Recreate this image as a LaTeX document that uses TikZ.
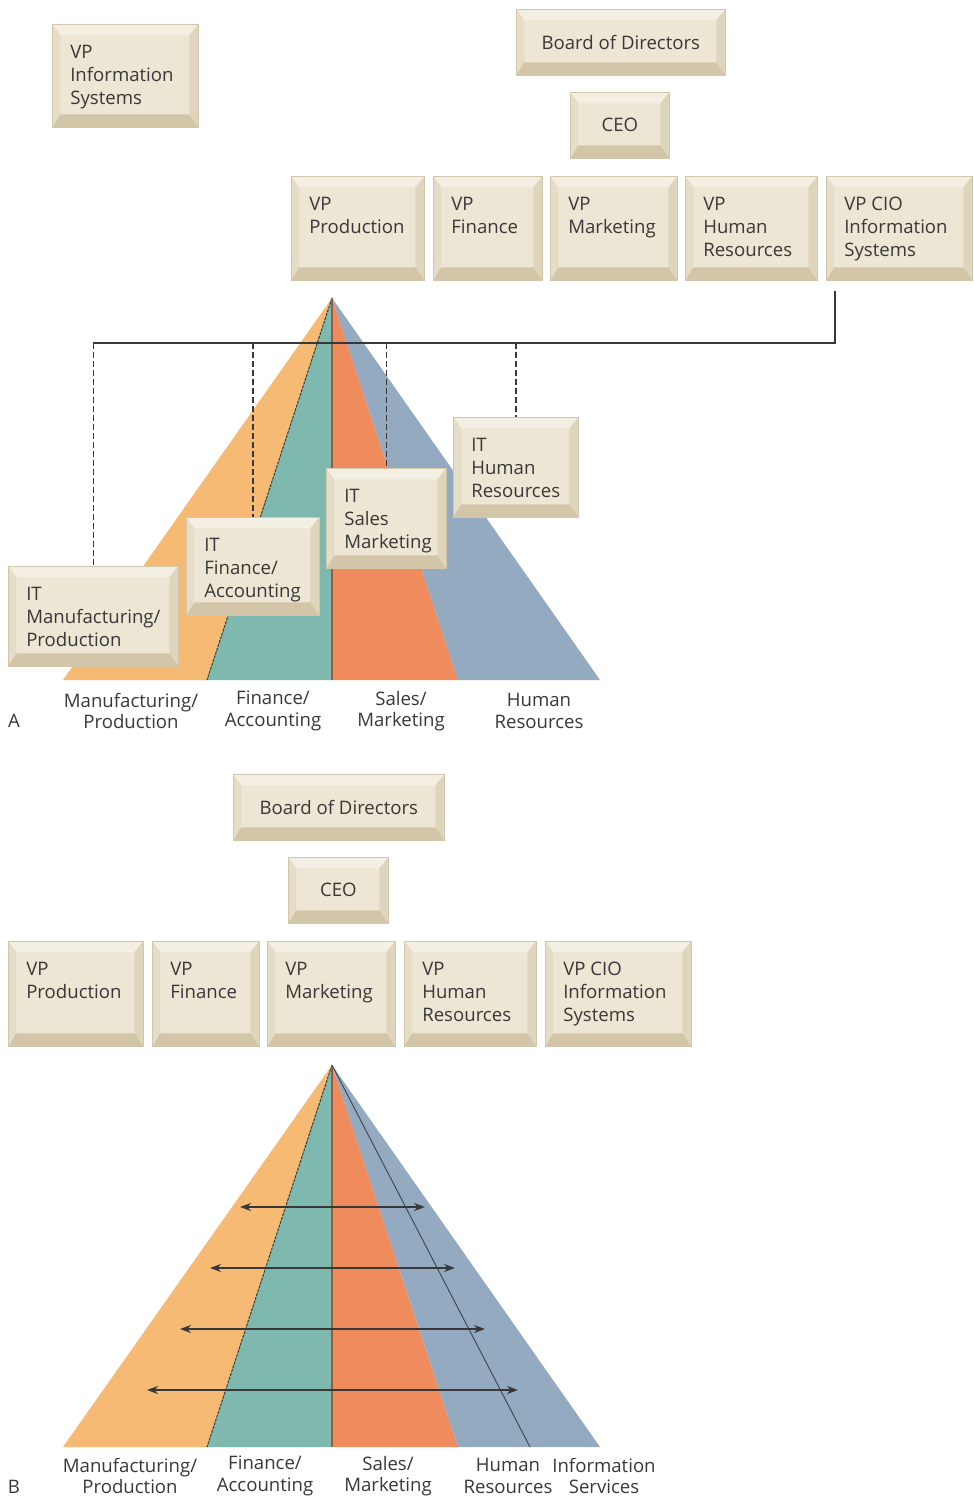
\documentclass[tikz,border=0pt]{standalone}
\usepackage{fontspec}
\setmainfont{Open Sans}
\usetikzlibrary{arrows.meta}

\definecolor{face}{HTML}{EDE6D4}
\definecolor{bevtop}{HTML}{F4EFE3}
\definecolor{bevleft}{HTML}{E6DDC9}
\definecolor{bevright}{HTML}{DFD4BC}
\definecolor{bevbot}{HTML}{D3C6A8}
\definecolor{edge}{HTML}{D2C6AB}
\definecolor{mfgcol}{HTML}{F7BA74}
\definecolor{fincol}{HTML}{7FB8AE}
\definecolor{salescol}{HTML}{EF8B5C}
\definecolor{hrcol}{HTML}{94AAC0}
\definecolor{ink}{HTML}{383838}

% top-aligned text inside a bevelled box: width, height, text
\newcommand{\boxtext}[3]{\parbox[t][#2pt][t]{#1pt}{\raggedright\leftskip=18pt\vspace*{21pt}#3}}

\tikzset{
  bevelbox/.style={rectangle, fill=face, draw=edge, line width=0.6pt, inner sep=0pt,
    anchor=north west, text=ink,
    path picture={
      \coordinate (pnw) at (path picture bounding box.north west);
      \coordinate (pne) at (path picture bounding box.north east);
      \coordinate (psw) at (path picture bounding box.south west);
      \coordinate (pse) at (path picture bounding box.south east);
      \coordinate (qnw) at ([shift={(8pt,-11pt)}]pnw);
      \coordinate (qne) at ([shift={(-9pt,-11pt)}]pne);
      \coordinate (qsw) at ([shift={(8pt,13pt)}]psw);
      \coordinate (qse) at ([shift={(-9pt,13pt)}]pse);
      \fill[bevtop] (pnw) -- (pne) -- (qne) -- (qnw) -- cycle;
      \fill[bevleft] (pnw) -- (qnw) -- (qsw) -- (psw) -- cycle;
      \fill[bevright] (pne) -- (qne) -- (qse) -- (pse) -- cycle;
      \fill[bevbot] (psw) -- (qsw) -- (qse) -- (pse) -- cycle;
    }},
  bus/.style={draw=ink, line width=1.6pt},
  dashlink/.style={draw=ink, line width=1.6pt, dash pattern=on 6pt off 3pt},
  flow/.style={draw=ink, line width=1.8pt, {Stealth[length=11pt,width=8pt]}-{Stealth[length=11pt,width=8pt]}},
  tag/.style={text=ink, align=center, font=\fontsize{18.6}{21.5}\selectfont}
}

\begin{document}
\begin{tikzpicture}[x=1pt, y=-1pt, font=\fontsize{18.6}{23}\selectfont]
\useasboundingbox (0,0) rectangle (974,1500);

% ----------------------------------------------------------
% Pyramids (A and B)
% ----------------------------------------------------------
\foreach \ya/\yb in {298/680, 1065/1447} {
    \fill[mfgcol] (332,\ya) -- (63,\yb) -- (207,\yb) -- cycle;
    \fill[fincol] (332,\ya) -- (207,\yb) -- (332,\yb) -- cycle;
    \fill[salescol] (332,\ya) -- (332,\yb) -- (458,\yb) -- cycle;
    \fill[hrcol] (332,\ya) -- (458,\yb) -- (600,\yb) -- cycle;
    \draw[fincol!35!black, line width=1pt, dash pattern=on 3pt off 1pt] (332,\ya) -- (207,\yb);
    \draw[salescol!65!black, line width=1.2pt] (332,\ya) -- (332,\yb);
}
% information services slice in B
\draw[hrcol!45!black, line width=1pt] (332,1065) -- (530,1447);

% ----------------------------------------------------------
% A: separate IS department
% ----------------------------------------------------------
\node[bevelbox] (vpisA) at (52,24) {\boxtext{146}{103}{VP\\Information\\Systems}};
\node[bevelbox, minimum width=209, minimum height=66] (boardA) at (516,9) {Board of Directors};
\node[bevelbox, minimum width=99, minimum height=66] (ceoA) at (570,92) {CEO};

\node[bevelbox] (vpprodA) at (291,176) {\boxtext{133}{104}{VP\\Production}};
\node[bevelbox] (vpfinA) at (433,176) {\boxtext{109}{104}{VP\\Finance}};
\node[bevelbox] (vpmktA) at (550,176) {\boxtext{127}{104}{VP\\Marketing}};
\node[bevelbox] (vphrA) at (685,176) {\boxtext{132}{104}{VP\\Human\\Resources}};
\node[bevelbox] (vpcioA) at (826,176) {\boxtext{146}{104}{VP CIO\\Information\\Systems}};

% IT units hanging off the CIO
\coordinate (busR) at (835,343);
\coordinate (busL) at (93,343);
\draw[bus] ([xshift=9pt,yshift=-10pt]vpcioA.south west) -- (busR) -- (busL);

\node[bevelbox] (ithr) at (453,417) {\boxtext{125}{100}{IT\\Human\\Resources}};
\node[bevelbox] (itsales) at (326,468) {\boxtext{120}{100}{IT\\Sales\\Marketing}};
\node[bevelbox] (itfin) at (186,517) {\boxtext{133}{98}{IT\\Finance/\\Accounting}};
\node[bevelbox] (itmfg) at (8,566) {\boxtext{170}{100}{IT\\Manufacturing/\\Production}};

\foreach \n in {itmfg,itfin,itsales,ithr} {
    \draw[dashlink] (\n.north |- busL) -- (\n.north);
}

\node[tag] (mfgA) at (131,711) {Manufacturing/\\Production};
\node[tag] (finA) at (273,711) {Finance/\\Accounting};
\node[tag] (salesA) at (401,711) {Sales/\\Marketing};
\node[tag] (hrA) at (539,711) {Human\\Resources};
\node[tag] (partA) at (14,721) {A};

% ----------------------------------------------------------
% B: IS as one more function
% ----------------------------------------------------------
\node[bevelbox, minimum width=211, minimum height=66] (boardB) at (233,774) {Board of Directors};
\node[bevelbox, minimum width=100, minimum height=66] (ceoB) at (288,857) {CEO};

\node[bevelbox] (vpprodB) at (8,941) {\boxtext{135}{105}{VP\\Production}};
\node[bevelbox] (vpfinB) at (152,941) {\boxtext{107}{105}{VP\\Finance}};
\node[bevelbox] (vpmktB) at (267,941) {\boxtext{128}{105}{VP\\Marketing}};
\node[bevelbox] (vphrB) at (404,941) {\boxtext{132}{105}{VP\\Human\\Resources}};
\node[bevelbox] (vpcioB) at (545,941) {\boxtext{146}{105}{VP CIO\\Information\\Systems}};

% exchange across the functions
\foreach \y/\xl/\xr in {1207/240/425, 1268/210/455, 1329/180/485, 1390/147/518} {
    \draw[flow] (\xl,\y) -- (\xr,\y);
}

\node[tag] (mfgB) at (130,1476) {Manufacturing/\\Production};
\node[tag] (finB) at (265,1476) {Finance/\\Accounting};
\node[tag] (salesB) at (388,1476) {Sales/\\Marketing};
\node[tag] (hrB) at (508,1476) {Human\\Resources};
\node[tag] (isB) at (604,1476) {Information\\Services};
\node[tag] (partB) at (14,1487) {B};

\end{tikzpicture}
\end{document}
